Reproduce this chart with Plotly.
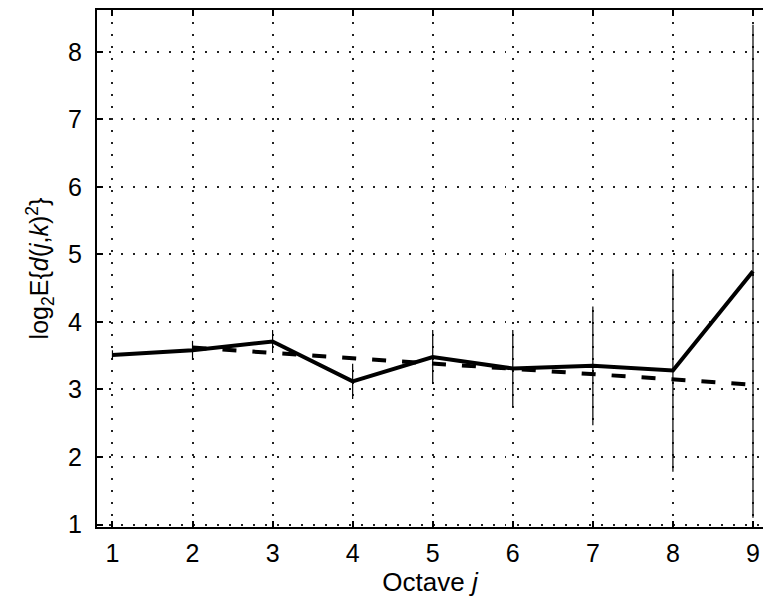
import plotly.graph_objects as go

octaves = [1, 2, 3, 4, 5, 6, 7, 8, 9]
log_energy = [3.51, 3.58, 3.71, 3.12, 3.48, 3.31, 3.35, 3.28, 4.75]
half_ci = [0.07, 0.14, 0.17, 0.26, 0.40, 0.57, 0.88, 1.50, 3.65]
fit_x = [2, 9]
fit_y = [3.62, 3.07]
x_ticks = [1, 2, 3, 4, 5, 6, 7, 8, 9]
y_ticks = [1, 2, 3, 4, 5, 6, 7, 8]

fig = go.Figure()
fig.add_trace(go.Scatter(
    x=octaves, y=log_energy, mode="lines",
    line=dict(color="black", width=4),
    error_y=dict(type="data", array=half_ci, visible=True,
                 color="black", thickness=1.2, width=0),
    showlegend=False))
fig.add_trace(go.Scatter(
    x=fit_x, y=fit_y, mode="lines",
    line=dict(color="black", width=4, dash="14px,16px"),
    showlegend=False))

font = dict(family="Liberation Sans, Arial, sans-serif", color="black")
grid = dict(showgrid=True, gridcolor="#222222", griddash="1.5px,10.5px", gridwidth=1.5)
fig.update_layout(
    width=763, height=603,
    margin=dict(l=97, r=0, t=10, b=76),
    paper_bgcolor="white", plot_bgcolor="white",
    font=dict(size=25, **font),
    xaxis=dict(range=[0.807, 9.125], tickvals=x_ticks, **grid,
               ticks="inside", ticklen=6, tickcolor="black", tickwidth=1.5,
               showline=True, linecolor="black", linewidth=2, mirror="ticks",
               zeroline=False, tickfont=dict(size=25, **font), ticklabelstandoff=3,
               title=dict(text="Octave <i>j</i>", font=dict(size=26, **font),
                          standoff=4)),
    yaxis=dict(range=[0.963, 8.62], tickvals=y_ticks, **grid,
               ticks="inside", ticklen=6, tickcolor="black", tickwidth=1.5,
               showline=True, linecolor="black", linewidth=2,
               zeroline=False, tickfont=dict(size=25, **font), ticklabelstandoff=8,
               title=dict(text="log<sub>2</sub>E{<i>d</i>(<i>j</i>,<i>k</i>)<sup>2</sup>}",
                          font=dict(size=25, **font), standoff=12)),
)
fig.write_html("out.html")
